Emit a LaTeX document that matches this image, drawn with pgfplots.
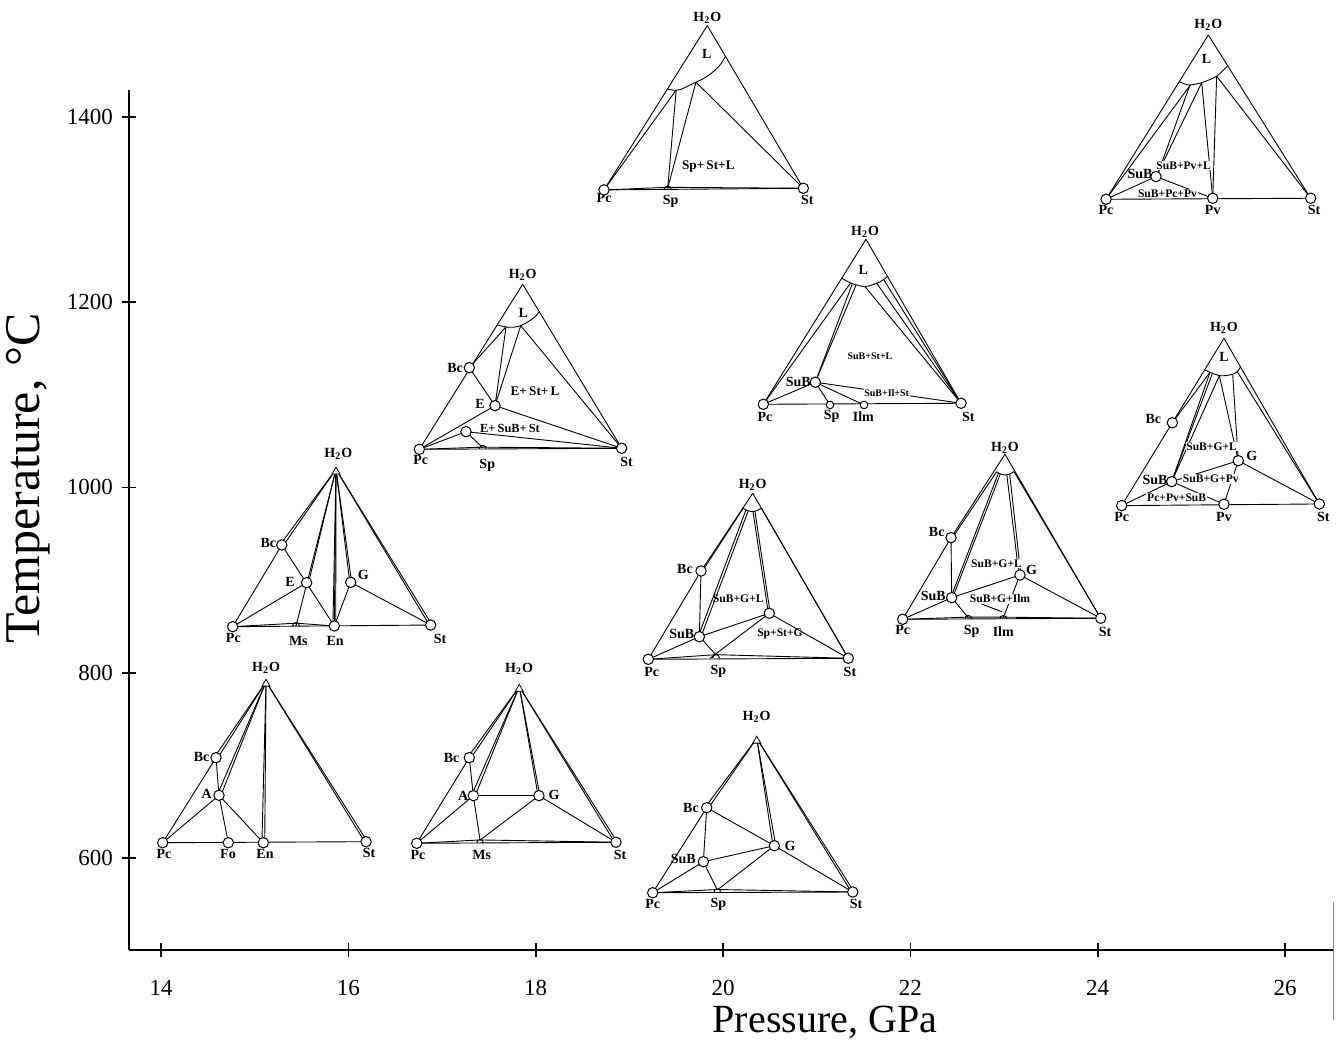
\documentclass[border=0pt]{standalone}
\usepackage{fontspec}
\setmainfont{Liberation Serif}
\usepackage{pgfplots}
\pgfplotsset{compat=1.18}
\usetikzlibrary{plotmarks}
\pgfdeclareplotmark{arch}{%
  \pgfpathmoveto{\pgfqpoint{\pgfplotmarksize}{0pt}}%
  \pgfpatharc{0}{180}{\pgfplotmarksize}%
  \pgfusepathqstroke}
\tikzset{ln/.style={black, line width=0.45pt}}
\newcommand{\seg}[1]{\addplot[ln] coordinates {#1};}
\newcommand{\arc}[1]{\addplot[ln, smooth] coordinates {#1};}
\newcommand{\vl}[3]{\node[font=\fontsize{7}{7}\selectfont\bfseries, inner sep=0pt] at (axis cs:#1,#2) {#3};}
\newcommand{\fl}[3]{\node[font=\fontsize{5.8}{6}\selectfont\bfseries, inner sep=0.3pt] at (axis cs:#1,#2) {#3};}
\newcommand{\flw}[3]{\node[font=\fontsize{5.8}{6}\selectfont\bfseries, inner sep=0.4pt, fill=white] at (axis cs:#1,#2) {#3};}
\newcommand{\fls}[3]{\node[font=\fontsize{5}{5}\selectfont\bfseries, inner sep=0.4pt, fill=white] at (axis cs:#1,#2) {#3};}
\newcommand{\HO}{H\textsubscript{2}O}
\newcommand{\pts}[1]{\addplot[only marks, mark=*, mark size=2.6pt, mark options={draw=black, fill=white, line width=0.5pt}] coordinates {#1};}
\newcommand{\spts}[1]{\addplot[only marks, mark=*, mark size=1.9pt, mark options={draw=black, fill=white, line width=0.5pt}] coordinates {#1};}
\newcommand{\hpts}[1]{\addplot[only marks, mark=arch, mark size=1.7pt, mark options={draw=black, line width=0.5pt}] coordinates {#1};}
\newcommand{\apex}[1]{\addplot[only marks, mark=triangle*, mark size=2.3pt, mark options={draw=black, fill=white, line width=0.4pt}] coordinates {#1};}
\begin{document}
\begin{tikzpicture}
\useasboundingbox (-64.5pt,-46pt) rectangle (605.5pt,475pt);
\begin{axis}[
  at={(0,0)}, anchor=south west, scale only axis,
  width=602pt, height=430pt,
  xmin=13.658, xmax=26.512, ymin=500.7, ymax=1429.1,
  axis lines=left, axis line style={-, line width=0.9pt},
  clip=false,
  xtick={14,16,...,26}, ytick={600,800,...,1400},
  tick align=center, major tick length=7pt,
  tick style={line width=0.8pt, black},
  tick label style={font=\fontsize{11.5}{11.5}\selectfont},
  /pgf/number format/assume math mode=true,
  /pgf/number format/1000 sep={},
  xticklabel style={yshift=-8pt},
  yticklabel style={xshift=-1pt},
  xlabel={Pressure, GPa}, ylabel={Temperature, °C},
  xlabel style={font=\fontsize{20}{20}\selectfont, at={(axis description cs:0.578,-0.0837)}, anchor=center},
  ylabel style={font=\fontsize{25}{25}\selectfont, at={(axis description cs:-0.0839,0.548)}, anchor=center},
]
% ---------- T1 (14-16, 600) ----------
\seg{(14.018,616.5) (16.189,617.6)}
\seg{(14.018,616.5) (14.587,708.3)}
\seg{(14.567,708.3) (15.121,790.3)}
\seg{(14.607,708.3) (15.121,790.3)}
\seg{(14.587,708.3) (14.619,667.7)}
\seg{(14.619,667.7) (14.018,616.5)}
\seg{(14.619,667.7) (14.718,616.5)}
\seg{(14.619,667.7) (15.092,616.5)}
\seg{(14.599,667.7) (15.121,790.3)}
\seg{(14.639,667.7) (15.121,790.3)}
\seg{(15.077,616.5) (15.121,790.3)}
\seg{(15.107,616.5) (15.121,790.3)}
\seg{(16.174,617.6) (15.121,790.3)}
\seg{(16.204,617.6) (15.121,790.3)}
\pts{(14.018,616.5) (14.718,616.5) (15.092,616.5) (16.189,617.6) (14.587,708.3) (14.619,667.7)}
\apex{(15.121,788)}
\vl{15.121}{805}{\HO}
\vl{14.032}{604.5}{Pc}
\vl{14.715}{604.5}{Fo}
\vl{15.11}{604.5}{En}
\vl{16.22}{605.5}{St}
\vl{14.434}{709.4}{Bc}
\vl{14.488}{669}{A}
% ---------- T2 (17-19, 600) ----------
\seg{(16.730,615.9) (18.857,617.0)}
\seg{(16.730,615.9) (17.406,619.5) (18.857,617.0)}
\seg{(16.730,615.9) (17.291,708.3)}
\seg{(17.271,708.3) (17.825,784.9)}
\seg{(17.311,708.3) (17.825,784.9)}
\seg{(17.291,708.3) (17.334,667.3)}
\seg{(17.314,667.3) (17.825,784.9)}
\seg{(17.354,667.3) (17.825,784.9)}
\seg{(17.334,667.3) (18.035,667.3)}
\seg{(17.334,667.3) (16.730,615.9)}
\seg{(17.334,667.3) (17.406,619.4)}
\seg{(18.025,667.3) (17.825,784.9)}
\seg{(18.045,667.3) (17.825,784.9)}
\seg{(18.035,667.3) (17.406,619.4)}
\seg{(18.035,667.3) (18.857,617.0)}
\seg{(18.842,617.0) (17.825,784.9)}
\seg{(18.872,617.0) (17.825,784.9)}
\hpts{(17.406,616.3)}
\pts{(16.730,615.9) (18.857,617.0) (17.291,708.3) (17.334,667.3) (18.035,667.3)}
\apex{(17.825,782.5)}
\vl{17.822}{804.7}{\HO}
\vl{16.744}{603.2}{Pc}
\vl{17.424}{603.2}{Ms}
\vl{18.90}{603.2}{St}
\vl{17.103}{707.6}{Bc}
\vl{17.227}{667}{A}
\vl{18.196}{668}{G}
% ---------- T3 (20, 560) ----------
\seg{(19.249,562.5) (21.385,563.3)}
\seg{(19.249,562.5) (19.939,566) (21.385,563.3)}
\seg{(19.249,562.5) (19.826,654.3)}
\seg{(19.806,654.3) (20.360,729.2)}
\seg{(19.846,654.3) (20.360,729.2)}
\seg{(19.826,654.3) (19.790,596.0)}
\seg{(19.826,654.3) (20.548,613.3)}
\seg{(20.533,613.3) (20.360,729.2)}
\seg{(20.563,613.3) (20.360,729.2)}
\seg{(20.548,613.3) (19.790,596.0)}
\seg{(20.548,613.3) (19.939,565.5)}
\seg{(20.548,613.3) (21.385,563.3)}
\seg{(19.790,596.0) (19.249,562.5)}
\seg{(19.790,596.0) (19.939,565.5)}
\seg{(21.370,563.3) (20.360,729.2)}
\seg{(21.400,563.3) (20.360,729.2)}
\hpts{(19.939,563)}
\pts{(19.249,562.5) (21.385,563.3) (19.826,654.3) (20.548,613.3) (19.790,596.0)}
\apex{(20.360,726.5)}
\vl{20.358}{752.5}{\HO}
\vl{19.249}{550.3}{Pc}
\vl{19.95}{550.3}{Sp}
\vl{21.42}{550.3}{St}
\vl{19.658}{654.3}{Bc}
\vl{20.715}{613.3}{G}
\vl{19.576}{598.6}{SuB}
% ---------- T4 (15-17, 850) ----------
\seg{(14.765,849.7) (16.879,851.5)}
\seg{(14.765,849.7) (15.441,853.5) (15.850,850.5)}
\seg{(14.765,849.7) (15.289,937.9)}
\seg{(15.269,937.9) (15.868,1019.6)}
\seg{(15.309,937.9) (15.868,1019.6)}
\seg{(15.289,937.9) (15.850,850.5)}
\seg{(15.555,897.2) (14.765,849.7)}
\seg{(15.441,850.5) (15.868,1019.6)}
\seg{(15.575,897.2) (15.868,1019.6)}
\seg{(15.835,850.5) (15.868,1019.6)}
\seg{(15.850,850.5) (15.868,1019.6)}
\seg{(15.865,850.5) (15.868,1019.6)}
\seg{(16.015,897.6) (15.868,1019.6)}
\seg{(16.035,897.6) (15.868,1019.6)}
\seg{(16.025,897.6) (15.850,850.5)}
\seg{(16.025,897.6) (16.879,851.5)}
\seg{(16.864,851.5) (15.868,1019.6)}
\seg{(16.894,851.5) (15.868,1019.6)}
\hpts{(15.441,850.5)}
\pts{(14.765,849.7) (15.850,850.5) (16.879,851.5) (15.289,937.9) (15.555,897.2) (16.025,897.6)}
\apex{(15.868,1017)}
\vl{15.893}{1036.8}{\HO}
\vl{14.772}{837.2}{Pc}
\vl{15.466}{834.5}{Ms}
\vl{15.858}{834.5}{En}
\vl{16.979}{836.1}{St}
\vl{15.146}{939.7}{Bc}
\vl{15.377}{898.3}{E}
\vl{16.16}{905.5}{G}
% ---------- T5 (17-19, 1040) ----------
\seg{(16.758,1041.2) (17.861,1219.4)}
\seg{(18.918,1042.3) (17.861,1219.4)}
\seg{(16.758,1041.2) (18.918,1042.3)}
\seg{(16.758,1041.2) (17.434,1043.5) (18.918,1042.3)}
\arc{(17.59,1175.4) (17.683,1173.3) (17.761,1172.9) (17.840,1174.7) (17.921,1179.0) (17.993,1184.4) (18.039,1189.8)}
\seg{(17.291,1129.3) (17.683,1173.3)}
\seg{(17.566,1088.3) (17.683,1173.3)}
\seg{(17.566,1088.3) (17.840,1174.7)}
\seg{(17.840,1174.7) (18.918,1042.3)}
\seg{(17.291,1129.3) (17.566,1088.3)}
\seg{(17.566,1088.3) (16.758,1041.2)}
\seg{(17.566,1088.3) (18.918,1042.3)}
\seg{(17.256,1060.2) (16.758,1041.2)}
\seg{(17.256,1060.2) (18.918,1042.3)}
\seg{(17.256,1060.2) (17.434,1043.0)}
\hpts{(17.434,1041.8)}
\pts{(16.758,1041.2) (18.918,1042.3) (17.291,1129.3) (17.566,1088.3) (17.256,1060.2)}
\vl{17.861}{1229.4}{\HO}
\vl{17.868}{1188}{L}
\vl{16.772}{1029.7}{Pc}
\vl{17.483}{1024.3}{Sp}
\vl{18.971}{1027.8}{St}
\vl{17.139}{1128.7}{Bc}
\vl{17.406}{1089.8}{E}
\node[font=\fontsize{6.6}{7}\selectfont\bfseries, inner sep=0.3pt] at (axis cs:17.993,1103.4) {E+\,St+\,L};
\node[font=\fontsize{6.2}{7}\selectfont\bfseries, inner sep=0.3pt] at (axis cs:17.726,1063.9) {E+\,SuB+\,St};
% ---------- T6 (20, 815) ----------
\seg{(19.202,814.5) (21.337,815.6)}
\seg{(19.202,814.5) (19.925,819.5) (21.337,815.6)}
\seg{(19.202,814.5) (19.765,909.8)}
\seg{(19.765,909.8) (20.317,993.7)}
\seg{(19.780,909.8) (20.215,977.5)}
\seg{(19.765,909.8) (19.747,838.9)}
\seg{(19.735,838.9) (20.245,975.8)}
\seg{(19.765,838.9) (20.270,975)}
\seg{(19.747,838.9) (20.494,864.2)}
\seg{(19.747,838.9) (19.202,814.5)}
\seg{(19.747,838.9) (19.925,819.2)}
\seg{(20.484,864.2) (20.320,974)}
\seg{(20.504,864.2) (20.340,974.5)}
\seg{(20.494,864.2) (19.86,815.5)}
\seg{(20.494,864.2) (21.337,815.6)}
\seg{(21.337,815.6) (20.411,977.5)}
\seg{(21.337,815.6) (20.317,993.7)}
\arc{(20.215,977.5) (20.26,975) (20.306,973.9) (20.36,975) (20.411,977.5)}
\hpts{(19.925,816)}
\pts{(19.202,814.5) (21.337,815.6) (19.765,909.8) (19.747,838.9) (20.494,864.2)}
\vl{20.317}{1002.7}{\HO}
\vl{19.239}{801.1}{Pc}
\vl{19.95}{801.1}{Sp}
\vl{21.355}{801.1}{St}
\vl{19.594}{911.6}{Bc}
\vl{19.559}{841.8}{SuB}
\fl{20.163}{880.3}{SuB+G+L}
\fl{20.608}{841.8}{Sp+St+G}
% ---------- T7 (19-21, 1320) ----------
\seg{(18.729,1321.2) (19.832,1498.6)}
\seg{(20.857,1323.0) (19.832,1498.6)}
\seg{(18.729,1321.2) (20.857,1323.0)}
\seg{(18.729,1321.2) (19.409,1324) (20.857,1323.0)}
\arc{(19.406,1430.2) (19.469,1428.8) (19.541,1429.5) (19.630,1433.5) (19.711,1437.5) (19.808,1442.4) (19.896,1448.9) (19.968,1456.1) (20.025,1465.1)}
\seg{(18.729,1321.2) (19.50,1429)}
\seg{(19.409,1323) (19.50,1429)}
\seg{(19.409,1323) (19.711,1437.5)}
\seg{(19.711,1437.5) (20.857,1323.0)}
\hpts{(19.409,1321.8)}
\pts{(18.729,1321.2) (20.857,1323.0)}
\vl{19.832}{1507.1}{\HO}
\vl{19.826}{1467.7}{L}
\vl{18.73}{1313}{Pc}
\vl{19.441}{1308.5}{Sp}
\vl{20.90}{1310.4}{St}
\node[font=\fontsize{6.6}{7}\selectfont\bfseries, inner sep=0.3pt] at (axis cs:19.843,1346.3) {Sp+\,St+L};
% ---------- T8 (21-22.5, 1090) ----------
\seg{(20.430,1089.8) (21.526,1267.9)}
\seg{(22.541,1090.9) (21.526,1267.9)}
\seg{(20.430,1089.8) (22.541,1090.9)}
\arc{(21.27,1225.8) (21.33,1222.3) (21.391,1219.7) (21.516,1216.8) (21.641,1220.4) (21.70,1223.5) (21.757,1227.6)}
\seg{(20.430,1089.8) (21.36,1220.5)}
\seg{(20.985,1113.6) (21.38,1220)}
\seg{(20.985,1113.6) (21.42,1218.5)}
\seg{(20.985,1113.6) (20.430,1089.8)}
\seg{(20.985,1113.6) (21.142,1089.1)}
\seg{(20.985,1113.6) (21.505,1089.1)}
\seg{(20.985,1113.6) (22.541,1090.9)}
\seg{(21.516,1216.8) (22.541,1090.9)}
\seg{(21.641,1220.4) (22.541,1090.9)}
\seg{(21.712,1224.8) (22.541,1090.9)}
\spts{(21.142,1089.1) (21.505,1089.1)}
\pts{(20.430,1089.8) (22.541,1090.9) (20.985,1113.6)}
\vl{21.516}{1276.2}{\HO}
\vl{21.498}{1234.8}{L}
\vl{20.448}{1076.4}{Pc}
\vl{21.16}{1076.4}{Sp}
\vl{21.498}{1076.4}{Ilm}
\vl{22.618}{1076.4}{St}
\vl{20.804}{1113.6}{SuB}
\node[font=\fontsize{5}{5}\selectfont\bfseries, inner sep=0.3pt] at (axis cs:21.569,1141.2) {SuB+St+L};
\fls{21.747}{1101.7}{SuB+Il+St}
% ---------- T9 (22-24, 860) ----------
\seg{(21.918,857.7) (24.032,858.8)}
\seg{(21.918,857.7) (22.619,860) (22.992,860) (24.032,858.8)}
\seg{(21.918,857.7) (22.434,945.8)}
\seg{(22.434,945.8) (23.010,1035.8)}
\seg{(22.450,945.8) (22.921,1017.1)}
\seg{(22.434,945.8) (22.441,881.0)}
\seg{(22.431,881.0) (22.940,1015.5)}
\seg{(22.451,881.0) (22.960,1014.5)}
\seg{(22.441,881.0) (23.170,905.5)}
\seg{(22.441,881.0) (21.918,857.7)}
\seg{(22.441,881.0) (22.619,859.4)}
\seg{(23.160,905.5) (23.030,1013.6)}
\seg{(23.180,905.5) (23.060,1014.3)}
\seg{(23.170,905.5) (22.992,859.4)}
\seg{(23.170,905.5) (24.032,858.8)}
\seg{(24.032,858.8) (23.010,1035.8)}
\seg{(24.032,858.8) (23.106,1017.1)}
\seg{(22.743,874.9) (22.975,865.9)}
\arc{(22.921,1017.1) (22.96,1014.5) (23.010,1013.5) (23.06,1014.5) (23.106,1017.1)}
\hpts{(22.619,858.2) (22.992,858.2)}
\pts{(21.918,857.7) (24.032,858.8) (22.434,945.8) (22.441,881.0) (23.170,905.5)}
\vl{23.010}{1043}{\HO}
\vl{21.918}{846.2}{Pc}
\vl{22.655}{844.3}{Sp}
\vl{22.992}{844.3}{Ilm}
\vl{24.078}{844.3}{St}
\vl{22.281}{952.2}{Bc}
\vl{22.245}{882.9}{SuB}
\vl{23.295}{910.9}{G}
\flw{22.92}{918.1}{SuB+G+L}
\flw{22.957}{879.6}{SuB+G+Ilm}
% ---------- T10 (24-26.5, 1310) ----------
\seg{(24.089,1311.1) (25.181,1488.5)}
\seg{(26.274,1312.2) (25.181,1488.5)}
\seg{(24.089,1311.1) (26.274,1312.2)}
\arc{(24.871,1438.1) (24.93,1435.5) (24.985,1434.5) (25.110,1437.0) (25.270,1444) (25.385,1455.0)}
\seg{(24.089,1311.1) (24.99,1434.5)}
\seg{(24.650,1341) (24.985,1434.5)}
\seg{(24.650,1341) (25.11,1437)}
\seg{(25.228,1312.2) (25.11,1437)}
\seg{(25.228,1312.2) (25.27,1444)}
\seg{(25.27,1444) (26.274,1312.2)}
\seg{(24.622,1335.6) (25.228,1312.2)}
\seg{(24.622,1335.6) (24.089,1311.1)}
\pts{(24.089,1311.1) (25.228,1312.2) (26.274,1312.2) (24.622,1335.6)}
\vl{25.181}{1499.3}{\HO}
\vl{25.163}{1462.3}{L}
\vl{24.089}{1299.6}{Pc}
\vl{25.228}{1299.6}{Pv}
\vl{26.309}{1299.6}{St}
\vl{24.452}{1338.5}{SuB}
\flw{24.917}{1347.4}{SuB+Pv+L}
\flw{24.745}{1317.6}{SuB+Pc+Pv}
% ---------- T11 (24-26.5, 980) ----------
\seg{(24.256,980.4) (25.348,1161.1)}
\seg{(26.366,982.2) (25.348,1161.1)}
\seg{(24.256,980.4) (26.366,982.2)}
\arc{(25.145,1126.8) (25.199,1124.3) (25.253,1122.2) (25.299,1120.7) (25.359,1120.7) (25.441,1122.2) (25.490,1125.0) (25.525,1130.4)}
\seg{(24.797,1069.9) (25.199,1124.3)}
\seg{(24.790,1006.3) (25.199,1124.3)}
\seg{(24.790,1006.3) (25.225,1123.2)}
\seg{(24.790,1006.3) (25.299,1120.7)}
\seg{(25.501,1028.9) (25.299,1120.7)}
\seg{(25.501,1028.9) (25.441,1122.2)}
\seg{(26.366,982.2) (25.490,1125.0)}
\seg{(24.790,1006.3) (25.501,1028.9)}
\seg{(24.790,1006.3) (24.256,980.4)}
\seg{(24.790,1006.3) (25.348,981.9)}
\seg{(25.501,1028.9) (25.348,981.9)}
\seg{(25.501,1028.9) (26.366,982.2)}
\pts{(24.256,980.4) (25.348,981.9) (26.366,982.2) (24.797,1069.9) (24.790,1006.3) (25.501,1028.9)}
\vl{25.348}{1171.9}{\HO}
\vl{25.348}{1141.2}{L}
\vl{24.256}{968.5}{Pc}
\vl{25.348}{968.5}{Pv}
\vl{26.408}{968.5}{St}
\vl{24.594}{1074}{Bc}
\vl{24.612}{1008.1}{SuB}
\vl{25.644}{1034.3}{G}
\flw{25.216}{1044.2}{SuB+G+L}
\flw{25.207}{1009.2}{SuB+G+Pv}
\flw{24.843}{988.9}{Pc+Pv+SuB}
% scan border at right
\addplot[gray, line width=0.5pt] coordinates {(26.512,552) (26.512,425)};
\end{axis}
\end{tikzpicture}
\end{document}
